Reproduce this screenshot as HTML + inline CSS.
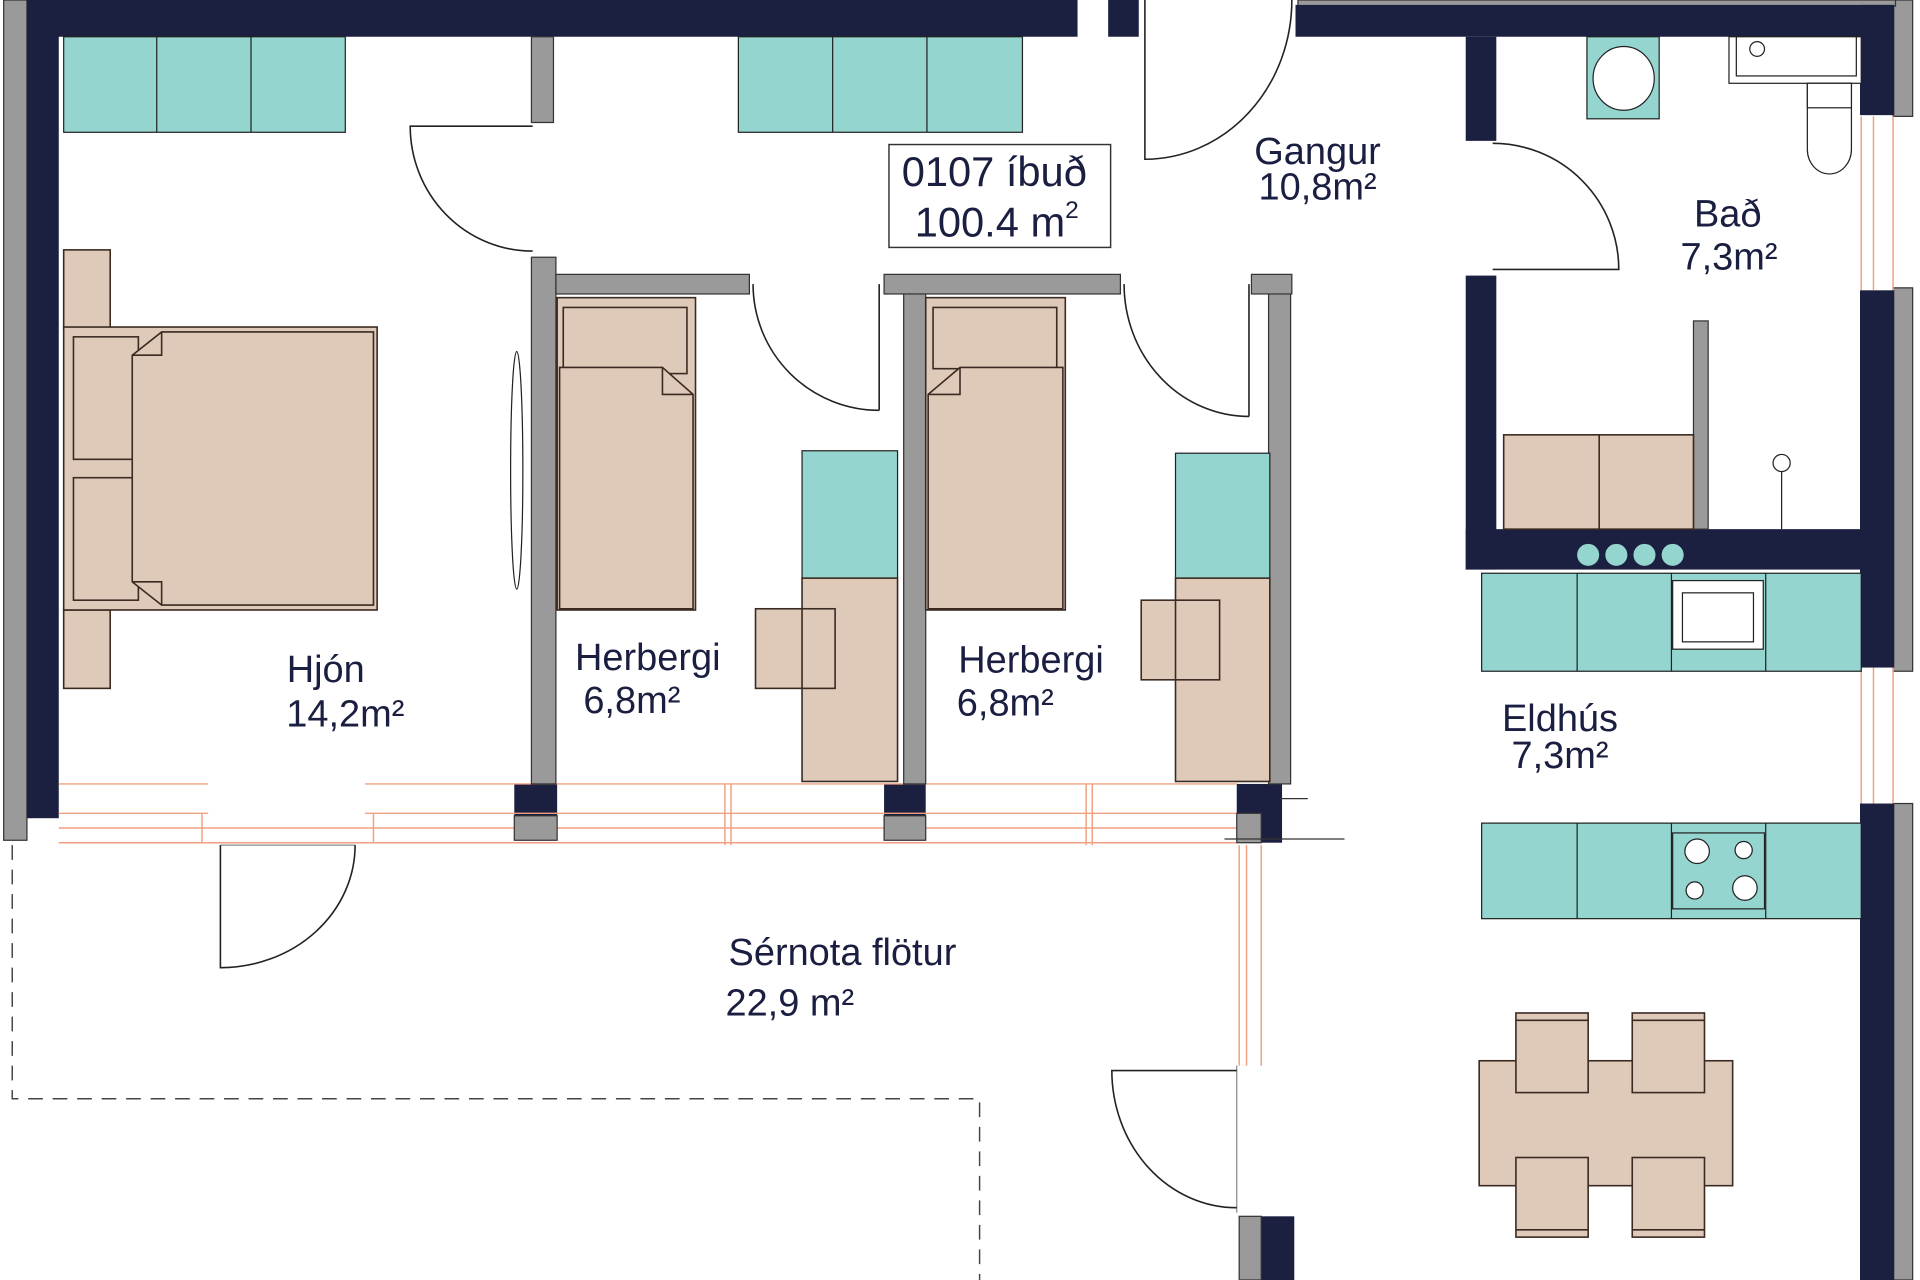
<!DOCTYPE html>
<html><head><meta charset="utf-8"><style>html,body{margin:0;padding:0;background:#fff}svg{display:block}text{font-family:"Liberation Sans",sans-serif;fill:#1a1e40}</style></head><body>
<svg width="1920" height="1280" viewBox="0 0 1568 1045" preserveAspectRatio="none" xmlns="http://www.w3.org/2000/svg">
<rect width="1568" height="1045" fill="#fff"/>
<g stroke="#333" stroke-width="1">
<rect x="3" y="0" width="19" height="686" fill="#9a9a9a"/>
<rect x="1546" y="0" width="16" height="95" fill="#9a9a9a"/>
<rect x="1546" y="235" width="16" height="313" fill="#9a9a9a"/>
<rect x="1546" y="656" width="16" height="389" fill="#9a9a9a"/>
<rect x="1060" y="0" width="488" height="5" fill="#9a9a9a"/>
</g>
<g fill="#1c2040">
<rect x="22" y="0" width="858" height="30"/>
<rect x="22" y="0" width="26" height="668"/>
<rect x="905" y="0" width="25" height="30"/>
<rect x="1058" y="4" width="488" height="26"/>
<rect x="1519" y="4" width="28" height="90"/>
<rect x="1519" y="237" width="28" height="308"/>
<rect x="1519" y="656" width="28" height="389"/>
<rect x="1197" y="30" width="25" height="85"/>
<rect x="1197" y="225" width="25" height="240"/>
<rect x="1197" y="432" width="322" height="33"/>
<rect x="420" y="640" width="35" height="26"/>
<rect x="722" y="640" width="34" height="26"/>
<rect x="1010" y="640" width="37" height="48"/>
<rect x="1030" y="993" width="27" height="52"/>
</g>
<g stroke="#f0a080" stroke-width="1.2" fill="none">
<line x1="48" y1="640" x2="1010" y2="640"/><line x1="48" y1="664" x2="1010" y2="664"/><line x1="48" y1="688" x2="1010" y2="688"/>
<line x1="48" y1="676" x2="1010" y2="676"/>
<line x1="165" y1="664" x2="165" y2="688"/><line x1="305" y1="664" x2="305" y2="688"/>
<line x1="592" y1="640" x2="592" y2="690"/><line x1="597" y1="640" x2="597" y2="690"/>
<line x1="887" y1="640" x2="887" y2="690"/><line x1="892" y1="640" x2="892" y2="690"/>
<line x1="1012" y1="690" x2="1012" y2="870"/><line x1="1018" y1="690" x2="1018" y2="870"/><line x1="1030" y1="690" x2="1030" y2="870"/>
<line x1="1520" y1="95" x2="1520" y2="237"/><line x1="1530" y1="95" x2="1530" y2="237"/><line x1="1546" y1="95" x2="1546" y2="237"/>
<line x1="1520" y1="545" x2="1520" y2="656"/><line x1="1530" y1="545" x2="1530" y2="656"/><line x1="1546" y1="545" x2="1546" y2="656"/>
</g>
<rect x="170" y="638" width="128" height="30" fill="#fff"/>
<g stroke="#333" stroke-width="1" fill="#9a9a9a">
<rect x="420" y="666" width="35" height="20"/>
<rect x="722" y="666" width="34" height="20"/>
<rect x="1012" y="993" width="18" height="52"/>
<rect x="434" y="30" width="18" height="70"/>
<rect x="434" y="210" width="20" height="430"/>
<rect x="454" y="224" width="158" height="16"/>
<rect x="738" y="225" width="18" height="415"/>
<rect x="722" y="224" width="193" height="16"/>
<rect x="1036" y="225" width="18" height="415"/>
<rect x="1022" y="224" width="33" height="16"/>
<rect x="1383" y="262" width="12" height="170"/>
<rect x="1010" y="664" width="20" height="24"/>
</g>
<g stroke="#333" stroke-width="1" fill="none">
<line x1="1045" y1="652" x2="1068" y2="652"/>
<line x1="1000" y1="685" x2="1098" y2="685"/>
<line x1="180" y1="690" x2="290" y2="690" stroke="#888"/>
<line x1="1010" y1="870" x2="1010" y2="990" stroke="#888"/>
</g>
<g stroke="#222" stroke-width="1.3" fill="none">
<path d="M180 690 V790 A110 100 0 0 0 290 690"/>
<path d="M435 103 H335 A100 102 0 0 0 435 205"/>
<path d="M718 232 V335 M615 232 A103 103 0 0 0 718 335"/>
<path d="M1020 232 V340 M918 232 A102 108 0 0 0 1020 340"/>
<path d="M935 0 V130 A120 130 0 0 0 1055 0"/>
<path d="M1219 220 H1322 A103 103 0 0 0 1219 117"/>
<path d="M1010 874 H908 A102 112 0 0 0 1010 986"/>
</g>
<path d="M10 690 V897 H800 V1045" stroke="#444" stroke-width="1.2" fill="none" stroke-dasharray="12 8"/>
<g stroke="#222" stroke-width="1" fill="#95d5cf">
<rect x="52" y="30" width="230" height="78"/><line x1="128" y1="30" x2="128" y2="108"/><line x1="205" y1="30" x2="205" y2="108"/>
<rect x="603" y="30" width="232" height="78"/><line x1="680" y1="30" x2="680" y2="108"/><line x1="757" y1="30" x2="757" y2="108"/>
<rect x="655" y="368" width="78" height="104"/>
<rect x="960" y="370" width="77" height="102"/>
<rect x="1296" y="30" width="59" height="67"/>
<rect x="1210" y="468" width="310" height="80"/><line x1="1288" y1="468" x2="1288" y2="548"/><line x1="1365" y1="468" x2="1365" y2="548"/><line x1="1442" y1="468" x2="1442" y2="548"/>
<rect x="1210" y="672" width="310" height="78"/><line x1="1288" y1="672" x2="1288" y2="750"/><line x1="1365" y1="672" x2="1365" y2="750"/><line x1="1442" y1="672" x2="1442" y2="750"/>
<rect x="1366" y="680" width="75" height="62"/>
</g>
<g stroke="#222" stroke-width="1" fill="#fff">
<ellipse cx="1326" cy="64" rx="25" ry="26"/>
<rect x="1366" y="474" width="74" height="56"/><rect x="1374" y="484" width="58" height="40"/>
<circle cx="1386" cy="695" r="10"/><circle cx="1424" cy="694" r="7"/><circle cx="1384" cy="727" r="7"/><circle cx="1425" cy="725" r="10"/>
<rect x="1412" y="30" width="108" height="38"/><rect x="1418" y="30" width="98" height="32"/>
<path d="M1476 68 H1512 V122 A18 20 0 0 1 1476 122 Z"/><rect x="1476" y="68" width="36" height="20"/>
<circle cx="1435" cy="40" r="6"/>
<circle cx="1455" cy="378" r="7"/><line x1="1455" y1="385" x2="1455" y2="432"/>
<ellipse cx="422" cy="384" rx="5" ry="97"/>
</g>
<g fill="#95d5cf"><circle cx="1297" cy="453" r="9"/><circle cx="1320" cy="453" r="9"/><circle cx="1343" cy="453" r="9"/><circle cx="1366" cy="453" r="9"/></g>
<g stroke="#3a2a22" stroke-width="1.3" fill="#dfc9b9">
<rect x="52" y="204" width="38" height="64"/><rect x="52" y="498" width="38" height="64"/>
<rect x="52" y="267" width="256" height="231"/>
<rect x="60" y="275" width="53" height="100"/><rect x="60" y="390" width="53" height="100"/>
<path d="M108 290 L132 271 H305 V494 H132 L108 475 Z"/>
<path d="M108 290 H132 V271 M108 475 H132 V494" fill="none"/>
<rect x="455" y="243" width="113" height="255"/>
<rect x="460" y="251" width="101" height="54"/>
<path d="M457 300 H541 L566 322 V497 H457 Z"/><path d="M541 300 V322 H566" fill="none"/>
<rect x="756" y="243" width="114" height="255"/>
<rect x="762" y="251" width="101" height="50"/>
<path d="M784 300 H868 V497 H758 V322 Z"/><path d="M784 300 V322 H758" fill="none"/>
<rect x="655" y="472" width="78" height="166"/>
<rect x="617" y="497" width="65" height="65"/><line x1="655" y1="497" x2="655" y2="562"/>
<rect x="960" y="472" width="77" height="166"/>
<rect x="932" y="490" width="64" height="65"/><line x1="960" y1="490" x2="960" y2="555"/>
<rect x="1228" y="355" width="155" height="77"/><line x1="1306" y1="355" x2="1306" y2="432"/>
<rect x="1208" y="866" width="207" height="102"/>
<rect x="1238" y="827" width="59" height="65"/><rect x="1333" y="827" width="59" height="65"/>
<rect x="1238" y="945" width="59" height="65"/><rect x="1333" y="945" width="59" height="65"/>
<line x1="1238" y1="833" x2="1297" y2="833"/><line x1="1333" y1="833" x2="1392" y2="833"/>
<line x1="1238" y1="1004" x2="1297" y2="1004"/><line x1="1333" y1="1004" x2="1392" y2="1004"/>
</g>
<rect x="726" y="118" width="181" height="84" fill="#fff" stroke="#333" stroke-width="1.2"/>
<text x="812" y="152" font-size="34" text-anchor="middle">0107 íbuð</text>
<text x="814" y="193" font-size="34" text-anchor="middle">100.4  m<tspan font-size="20" dy="-15">2</tspan></text>
<g font-size="31" text-anchor="middle">
<text x="1076" y="134">Gangur</text><text x="1076" y="163">10,8m²</text>
<text x="1411" y="185">Bað</text><text x="1412" y="220">7,3m²</text>
<text x="266" y="557">Hjón</text><text x="282" y="593">14,2m²</text>
<text x="529" y="547">Herbergi</text><text x="516" y="582">6,8m²</text>
<text x="842" y="549">Herbergi</text><text x="821" y="584">6,8m²</text>
<text x="1274" y="597">Eldhús</text><text x="1274" y="627">7,3m²</text>
<text x="688" y="788">Sérnota flötur</text>
<text x="645" y="829">22,9 m²</text>
</g>
</svg>
</body></html>
